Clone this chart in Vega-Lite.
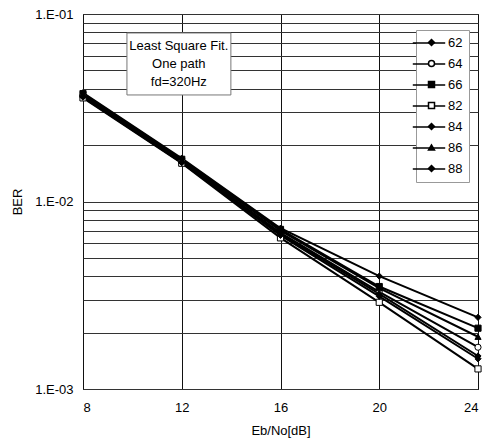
{
  "$schema": "https://vega.github.io/schema/vega-lite/v6.json",
  "width": 395,
  "height": 375,
  "autosize": "none",
  "padding": {"left": 83, "top": 14, "right": 18, "bottom": 54},
  "background": "white",
  "config": {
    "font": "Liberation Sans",
    "view": {"stroke": "black", "strokeWidth": 1},
    "axis": {"labelFont": "Liberation Sans", "titleFont": "Liberation Sans", "labelFontSize": 13, "titleFontSize": 13, "titleFontWeight": "normal", "labelColor": "black", "titleColor": "black", "domain": false, "ticks": false, "gridOpacity": 1}
  },
  "data": {"values": [
    {"series": "62", "ebno": 8, "ber": 0.0380}, {"series": "62", "ebno": 12, "ber": 0.0170}, {"series": "62", "ebno": 16, "ber": 0.0072}, {"series": "62", "ebno": 20, "ber": 0.0040}, {"series": "62", "ebno": 24, "ber": 0.00241},
    {"series": "64", "ebno": 8, "ber": 0.0367}, {"series": "64", "ebno": 12, "ber": 0.0164}, {"series": "64", "ebno": 16, "ber": 0.0068}, {"series": "64", "ebno": 20, "ber": 0.00330}, {"series": "64", "ebno": 24, "ber": 0.00167},
    {"series": "66", "ebno": 8, "ber": 0.0376}, {"series": "66", "ebno": 12, "ber": 0.0168}, {"series": "66", "ebno": 16, "ber": 0.0071}, {"series": "66", "ebno": 20, "ber": 0.00352}, {"series": "66", "ebno": 24, "ber": 0.00211},
    {"series": "82", "ebno": 8, "ber": 0.0357}, {"series": "82", "ebno": 12, "ber": 0.0160}, {"series": "82", "ebno": 16, "ber": 0.0064}, {"series": "82", "ebno": 20, "ber": 0.00290}, {"series": "82", "ebno": 24, "ber": 0.00128},
    {"series": "84", "ebno": 8, "ber": 0.0360}, {"series": "84", "ebno": 12, "ber": 0.0161}, {"series": "84", "ebno": 16, "ber": 0.0066}, {"series": "84", "ebno": 20, "ber": 0.00312}, {"series": "84", "ebno": 24, "ber": 0.00145},
    {"series": "86", "ebno": 8, "ber": 0.0371}, {"series": "86", "ebno": 12, "ber": 0.0166}, {"series": "86", "ebno": 16, "ber": 0.0070}, {"series": "86", "ebno": 20, "ber": 0.00345}, {"series": "86", "ebno": 24, "ber": 0.0019},
    {"series": "88", "ebno": 8, "ber": 0.0364}, {"series": "88", "ebno": 12, "ber": 0.0162}, {"series": "88", "ebno": 16, "ber": 0.0067}, {"series": "88", "ebno": 20, "ber": 0.00322}, {"series": "88", "ebno": 24, "ber": 0.00150}
  ]},
  "encoding": {
    "x": {"field": "ebno", "type": "quantitative", "scale": {"domain": [8, 24], "nice": false},
      "axis": {"values": [8, 12, 16, 20, 24], "grid": true, "gridColor": "#111", "labelPadding": 12, "title": "Eb/No[dB]", "titlePadding": 10}},
    "y": {"field": "ber", "type": "quantitative", "scale": {"type": "log", "domain": [0.001, 0.1], "nice": false},
      "axis": {"values": [0.001, 0.002, 0.003, 0.004, 0.005, 0.006, 0.007, 0.008, 0.009, 0.01, 0.02, 0.03, 0.04, 0.05, 0.06, 0.07, 0.08, 0.09, 0.1],
        "labelExpr": "datum.value == 0.1 ? '1.E-01' : datum.value == 0.01 ? '1.E-02' : datum.value == 0.001 ? '1.E-03' : ''",
        "labelOverlap": false, "grid": true, "gridColor": "#333", "labelPadding": 10, "title": "BER", "titlePadding": 10}}
  },
  "layer": [
    {
      "mark": {"type": "line", "strokeWidth": 2},
      "encoding": {
        "detail": {"field": "series"},
        "color": {"field": "series", "type": "nominal",
          "scale": {"range": ["black", "black", "black", "black", "black", "black", "black"]},
          "legend": {"title": null, "orient": "none", "legendX": 333, "legendY": 16, "symbolType": "M-2.7,0H2.7", "symbolSize": 144, "symbolStrokeWidth": 1.5,
            "labelFontSize": 13, "labelFont": "Liberation Sans", "labelColor": "black", "labelOffset": 12, "rowPadding": 7, "padding": 6, "fillColor": "white", "strokeColor": "#999"}}
      }
    },
    {
      "mark": {"type": "point", "filled": true, "stroke": "black", "strokeWidth": 1, "size": 38, "opacity": 1},
      "encoding": {
        "shape": {"field": "series", "type": "nominal",
          "scale": {"domain": ["62", "64", "66", "82", "84", "86", "88"], "range": ["diamond", "circle", "square", "square", "diamond", "triangle-up", "diamond"]},
          "legend": {"title": null, "orient": "none", "legendX": 336, "legendY": 16, "symbolSize": 36,
            "labelFontSize": 13, "labelFont": "Liberation Sans", "labelExpr": "''", "labelOffset": 12, "rowPadding": 7, "padding": 6,
            "encode": {"symbols": {"stroke": {"value": "black"}, "strokeWidth": {"value": 1.2}}}}},
        "fill": {"field": "series", "type": "nominal",
          "scale": {"domain": ["62", "64", "66", "82", "84", "86", "88"], "range": ["black", "white", "black", "white", "black", "black", "black"]},
          "legend": null}
      }
    },
    {
      "transform": [{"filter": "datum.series == '62' && datum.ebno == 8"}],
      "layer": [
        {
          "mark": {"type": "rect", "fill": "white", "stroke": "#777", "strokeWidth": 1},
          "encoding": {"x": {"datum": 9.78}, "x2": {"datum": 13.99}, "y": {"datum": 0.0792}, "y2": {"datum": 0.037}}
        },
        {
          "mark": {"type": "text", "font": "Liberation Sans", "fontSize": 13, "align": "center", "baseline": "middle", "lineHeight": 18, "fill": "black",
            "text": ["Least Square Fit.", "One path", "fd=320Hz"]},
          "encoding": {"x": {"datum": 11.88}, "y": {"datum": 0.0675}}
        }
      ]
    }
  ]
}
